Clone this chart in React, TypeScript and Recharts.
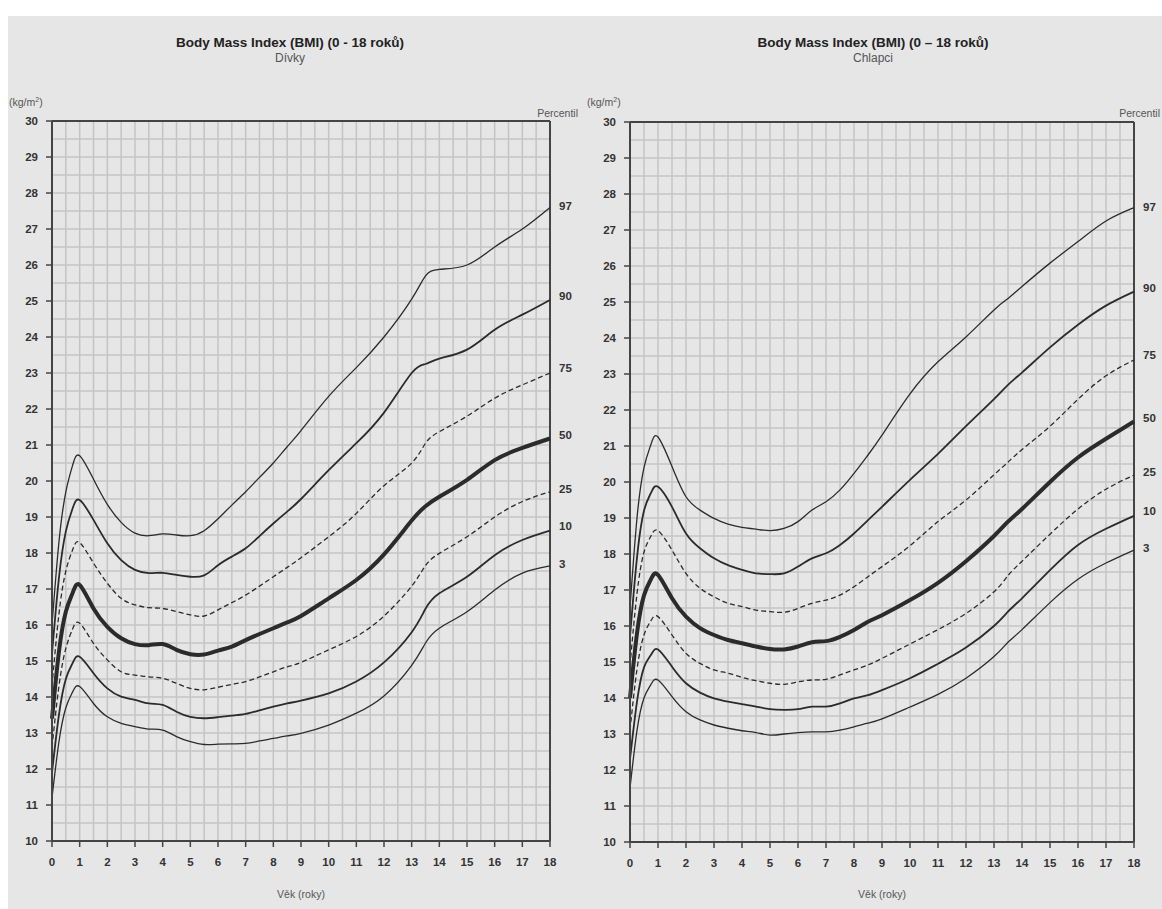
import { LineChart, Line, XAxis, YAxis, ReferenceLine } from 'recharts';

// age in years
const ages = [0, 0.25, 0.5, 0.75, 1, 1.5, 2, 2.5, 3, 3.5, 4, 4.5, 5, 5.5, 6, 6.5, 7, 7.5, 8, 8.5, 9, 10, 11, 12, 13, 13.5, 14, 15, 16, 17, 18];

// Dívky (girls) BMI percentiles
const girlsP97 = [16.0, 18.3, 19.7, 20.45, 20.7, 20.05, 19.35, 18.85, 18.55, 18.48, 18.53, 18.5, 18.48, 18.62, 18.95, 19.33, 19.7, 20.1, 20.5, 20.95, 21.4, 22.35, 23.15, 24.0, 25.05, 25.7, 25.88, 26.0, 26.5, 27.0, 27.6];
const girlsP90 = [15.2, 17.3, 18.6, 19.25, 19.47, 18.92, 18.27, 17.8, 17.53, 17.44, 17.45, 17.39, 17.34, 17.38, 17.66, 17.9, 18.13, 18.47, 18.82, 19.15, 19.5, 20.3, 21.05, 21.9, 23.0, 23.25, 23.4, 23.65, 24.2, 24.62, 25.03];
const girlsP75 = [14.3, 16.3, 17.5, 18.1, 18.29, 17.72, 17.16, 16.74, 16.56, 16.48, 16.46, 16.37, 16.28, 16.25, 16.42, 16.62, 16.83, 17.08, 17.34, 17.6, 17.87, 18.45, 19.1, 19.87, 20.5, 21.05, 21.37, 21.8, 22.3, 22.67, 23.0];
const girlsP50 = [13.4, 15.25, 16.37, 16.9, 17.11, 16.46, 15.95, 15.63, 15.47, 15.44, 15.47, 15.31, 15.19, 15.18, 15.29, 15.4, 15.58, 15.75, 15.91, 16.07, 16.25, 16.74, 17.25, 17.96, 18.9, 19.3, 19.56, 20.03, 20.58, 20.92, 21.18];
const girlsP25 = [12.6, 14.3, 15.35, 15.9, 16.05, 15.49, 15.03, 14.7, 14.61, 14.56, 14.52, 14.38, 14.24, 14.2, 14.27, 14.35, 14.43, 14.56, 14.7, 14.84, 14.96, 15.31, 15.68, 16.25, 17.08, 17.65, 17.99, 18.45, 19.0, 19.43, 19.7];
const girlsP10 = [11.9, 13.5, 14.5, 14.95, 15.12, 14.66, 14.24, 14.01, 13.92, 13.82, 13.78, 13.59, 13.45, 13.41, 13.44, 13.48, 13.53, 13.63, 13.73, 13.82, 13.9, 14.1, 14.43, 14.96, 15.8, 16.45, 16.88, 17.34, 17.94, 18.36, 18.62];
const girlsP3 = [11.2, 12.75, 13.7, 14.15, 14.29, 13.82, 13.45, 13.27, 13.18, 13.11, 13.08, 12.9, 12.76, 12.68, 12.69, 12.7, 12.71, 12.78, 12.85, 12.92, 12.99, 13.22, 13.55, 14.03, 14.88, 15.5, 15.91, 16.37, 16.97, 17.44, 17.64];

// Chlapci (boys) BMI percentiles
const boysP97 = [16.5, 19.0, 20.4, 21.05, 21.25, 20.43, 19.59, 19.22, 18.99, 18.83, 18.74, 18.69, 18.65, 18.71, 18.9, 19.22, 19.45, 19.78, 20.24, 20.75, 21.3, 22.45, 23.34, 24.03, 24.78, 25.1, 25.43, 26.08, 26.68, 27.25, 27.62];
const boysP90 = [15.7, 17.9, 19.2, 19.7, 19.87, 19.31, 18.57, 18.16, 17.88, 17.69, 17.56, 17.46, 17.44, 17.46, 17.65, 17.88, 18.02, 18.25, 18.57, 18.94, 19.31, 20.06, 20.78, 21.55, 22.3, 22.7, 23.04, 23.74, 24.37, 24.9, 25.29];
const boysP75 = [14.9, 16.9, 18.05, 18.5, 18.65, 18.11, 17.46, 17.05, 16.81, 16.63, 16.54, 16.44, 16.4, 16.38, 16.49, 16.63, 16.72, 16.86, 17.09, 17.37, 17.65, 18.23, 18.9, 19.5, 20.2, 20.55, 20.9, 21.55, 22.3, 22.95, 23.39];
const boysP50 = [14.0, 15.8, 16.85, 17.3, 17.42, 16.77, 16.26, 15.94, 15.75, 15.61, 15.52, 15.43, 15.36, 15.35, 15.43, 15.55, 15.58, 15.7, 15.89, 16.12, 16.3, 16.72, 17.2, 17.8, 18.5, 18.9, 19.25, 20.0, 20.68, 21.2, 21.68];
const boysP25 = [13.1, 14.8, 15.75, 16.15, 16.26, 15.75, 15.24, 14.96, 14.78, 14.69, 14.57, 14.48, 14.41, 14.38, 14.45, 14.5, 14.52, 14.64, 14.78, 14.92, 15.1, 15.5, 15.9, 16.35, 16.95, 17.4, 17.8, 18.55, 19.25, 19.8, 20.19];
const boysP10 = [12.3, 13.9, 14.85, 15.2, 15.35, 14.87, 14.41, 14.15, 13.99, 13.9, 13.83, 13.76, 13.69, 13.67, 13.69, 13.76, 13.76, 13.85, 13.99, 14.08, 14.22, 14.55, 14.95, 15.4, 16.0, 16.4, 16.77, 17.55, 18.25, 18.7, 19.06];
const boysP3 = [11.5, 13.1, 14.0, 14.38, 14.5, 14.04, 13.62, 13.39, 13.25, 13.16, 13.09, 13.04, 12.97, 13.0, 13.04, 13.06, 13.06, 13.11, 13.2, 13.3, 13.42, 13.75, 14.1, 14.55, 15.15, 15.55, 15.9, 16.65, 17.3, 17.75, 18.11];

const percentiles = ['97', '90', '75', '50', '25', '10', '3'];
const xTicks = [0, 1, 2, 3, 4, 5, 6, 7, 8, 9, 10, 11, 12, 13, 14, 15, 16, 17, 18];
const yTicks = [10, 11, 12, 13, 14, 15, 16, 17, 18, 19, 20, 21, 22, 23, 24, 25, 26, 27, 28, 29, 30];

const FONT = '"Liberation Sans", Arial, sans-serif';
const INK = '#333';
const GRID = '#c4c4c4';
const BG = '#e6e6e6';

// half-unit grid positions
const gridX = Array.from({ length: 37 }, (_, i) => i * 0.5);
const gridY = Array.from({ length: 41 }, (_, i) => 10 + i * 0.5);

const lineStyle: Record<string, { w: number; dash?: string; dy: number }> = {
  '97': { w: 1.3, dy: -1 },
  '90': { w: 1.8, dy: -4 },
  '75': { w: 1.3, dash: '5 3', dy: -5 },
  '50': { w: 4, dy: -4 },
  '25': { w: 1.3, dash: '5 3', dy: -3 },
  '10': { w: 1.8, dy: -5 },
  '3': { w: 1.3, dy: -2 },
};

function buildRows(series: number[][]) {
  return ages.map((age, i) => {
    const row: Record<string, number> = { age };
    percentiles.forEach((p, k) => {
      row['p' + p] = series[k][i];
    });
    return row;
  });
}

const girlsData = buildRows([girlsP97, girlsP90, girlsP75, girlsP50, girlsP25, girlsP10, girlsP3]);
const boysData = buildRows([boysP97, boysP90, boysP75, boysP50, boysP25, boysP10, boysP3]);

const endLabel = (name: string, dy: number) => (props: any) => {
  const { x, y, index } = props;
  if (index !== ages.length - 1) return <g />;
  return (
    <text x={x + 9} y={y + dy} dy="0.35em" fontSize={11.5} fontWeight="bold" fill={INK} fontFamily={FONT}>
      {name}
    </text>
  );
};

interface PanelProps {
  data: Record<string, number>[];
  left: number;
  width: number;
  margin: { top: number; right: number; bottom: number; left: number };
}

function BmiPanel({ data, left, width, margin }: PanelProps) {
  return (
    <div style={{ position: 'absolute', left, top: 0 }}>
      <LineChart width={width} height={909} data={data} margin={margin}>
        {gridX.map((v) => (
          <ReferenceLine key={'gx' + v} x={v} stroke={GRID} strokeWidth={1.5} />
        ))}
        {gridY.map((v) => (
          <ReferenceLine key={'gy' + v} y={v} stroke={GRID} strokeWidth={1.5} />
        ))}
        <ReferenceLine y={30} stroke="#444" strokeWidth={2} />
        <ReferenceLine x={18} stroke="#444" strokeWidth={2} />
        <XAxis
          dataKey="age"
          type="number"
          domain={[0, 18]}
          ticks={xTicks}
          interval={0}
          height={30}
          tickSize={6}
          tickMargin={11}
          axisLine={{ stroke: '#444', strokeWidth: 2 }}
          tickLine={{ stroke: '#444', strokeWidth: 1.5 }}
          tick={{ fontSize: 11.5, fontWeight: 'bold', fill: INK, fontFamily: FONT }}
        />
        <YAxis
          type="number"
          domain={[10, 30]}
          ticks={yTicks}
          interval={0}
          width={40}
          tickSize={6}
          tickMargin={8}
          axisLine={{ stroke: '#444', strokeWidth: 2 }}
          tickLine={{ stroke: '#444', strokeWidth: 1.5 }}
          tick={{ fontSize: 11.5, fontWeight: 'bold', fill: INK, fontFamily: FONT }}
        />
        {percentiles.map((p) => {
          const st = lineStyle[p];
          return (
            <Line
              key={p}
              dataKey={'p' + p}
              type="natural"
              stroke="#2b2b2b"
              strokeWidth={st.w}
              strokeDasharray={st.dash}
              dot={false}
              activeDot={false}
              isAnimationActive={false}
              label={endLabel(p, st.dy)}
            />
          );
        })}
      </LineChart>
    </div>
  );
}

const textBase: React.CSSProperties = {
  position: 'absolute',
  fontFamily: FONT,
  whiteSpace: 'nowrap',
  lineHeight: 1,
};

function Caption({ x, y, text, size = 11, bold = false, color = '#555', align = 'center' }: any) {
  const tf = align === 'center' ? 'translate(-50%, -50%)' : align === 'right' ? 'translate(-100%, -50%)' : 'translate(0, -50%)';
  return (
    <div style={{ ...textBase, left: x, top: y, fontSize: size, fontWeight: bold ? 'bold' : 'normal', color, transform: tf }}>
      {text}
    </div>
  );
}

export default function App() {
  return (
    <div style={{ position: 'absolute', left: 0, top: 0, width: 1162, height: 909, overflow: 'hidden' }}>
      <div style={{ position: 'absolute', left: 8, top: 16, width: 1154, height: 893, background: BG }} />

      <BmiPanel data={girlsData} left={0} width={580} margin={{ top: 121, right: 30, bottom: 38, left: 12 }} />
      <BmiPanel data={boysData} left={580} width={582} margin={{ top: 122, right: 28, bottom: 37, left: 10 }} />

      <Caption x={290} y={43} text="Body Mass Index (BMI) (0 - 18 roků)" size={13.5} bold color="#222" />
      <Caption x={290} y={58} text="Dívky" size={12} />
      <Caption x={873} y={43} text="Body Mass Index (BMI) (0 – 18 roků)" size={13.5} bold color="#222" />
      <Caption x={873} y={58} text="Chlapci" size={12} />

      <Caption x={9} y={101} text={<span>(kg/m<sup style={{ fontSize: 7 }}>2</sup>)</span>} size={10.5} align="left" />
      <Caption x={587} y={101} text={<span>(kg/m<sup style={{ fontSize: 7 }}>2</sup>)</span>} size={10.5} align="left" />
      <Caption x={578} y={113} text="Percentil" size={10.5} align="right" />
      <Caption x={1160} y={113} text="Percentil" size={10.5} align="right" />

      <Caption x={301} y={894} text="Věk (roky)" size={10.5} />
      <Caption x={882} y={894} text="Věk (roky)" size={10.5} />
    </div>
  );
}
